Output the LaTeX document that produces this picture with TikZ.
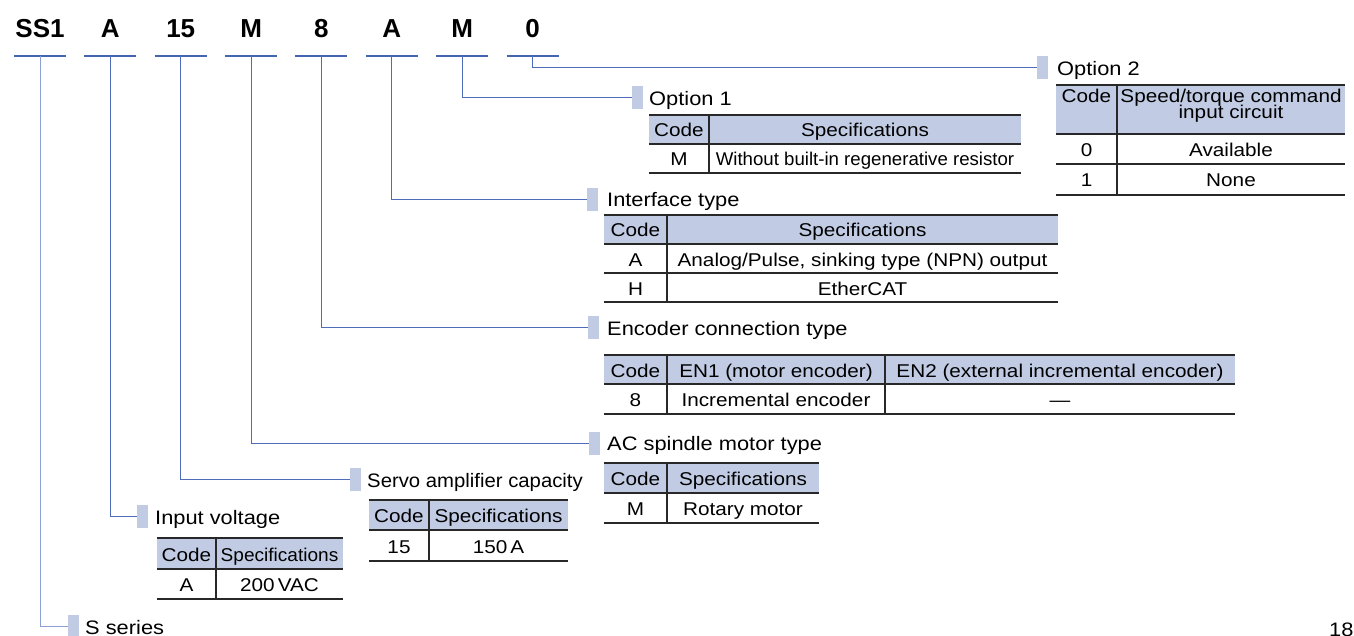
\documentclass[tikz,border=0pt]{standalone}
\usepackage{fontspec}
\usepackage{graphicx}
\setmainfont{Liberation Sans}
\newfontfamily\tabff{Liberation Sans}[FakeStretch=1.12]
\newcommand\tabfont{\tabff\fontsize{18.5}{20}\selectfont}
\newcommand\lblfont{\tabff\fontsize{19.5}{22}\selectfont}
\newcommand\codefont{\bfseries\fontsize{26}{30}\selectfont}
\definecolor{hdrblue}{RGB}{193,204,228}
\definecolor{mkblue}{RGB}{193,204,228}
\definecolor{barblue}{RGB}{68,102,178}
\definecolor{lineblue}{RGB}{78,108,186}
\definecolor{lightline}{RGB}{140,160,212}
\definecolor{tabline}{RGB}{40,40,40}
\tikzset{
 conn/.style={draw=lineblue, line width=1pt},
 bar/.style={draw=barblue, line width=2.2pt},
 marker/.style={fill=mkblue, draw=none, minimum width=11pt, minimum height=23pt, inner sep=0pt, anchor=west},
 lbl/.style={font=\lblfont, inner sep=0pt, anchor=base west},
 code/.style={font=\codefont, inner sep=0pt, anchor=base},
 cell/.style={font=\tabfont, inner sep=0pt, anchor=base},
 hrule/.style={draw=tabline, line width=1.4pt},
 vrule/.style={draw=tabline, line width=1.1pt},
 hdrfill/.style={fill=hdrblue, draw=none},
}
\begin{document}
\begin{tikzpicture}[x=1pt,y=-1pt]
\useasboundingbox (0,0) rectangle (1354,636);
\clip (0,0) rectangle (1354,636);
% ---- code letters and bars
\foreach \i/\t in {0/SS1,1/A,2/15,3/M,4/8,5/A,6/M,7/0}{
  \pgfmathsetmacro\xx{40+70.36*\i}
  \node[code] (c\i) at (\xx,38) {\t};
  \coordinate (b\i) at (\xx,56);
  \draw[bar] ([xshift=-26pt]b\i) -- ([xshift=26pt]b\i);
}
% ---- markers and labels
\node[marker] (m0) at (68,626) {};
\node[lbl] (l0) at (85,634) {S series};
\node[marker] (m1) at (137,516) {};
\node[lbl] (l1) at (155,524) {Input voltage};
\node[marker] (m2) at (350,479) {};
\node[lbl] (l2) at (367,487) {\scalebox{0.93}[1]{Servo amplifier capacity}};
\node[marker] (m3) at (589,443) {};
\node[lbl] (l3) at (607,450) {AC spindle motor type};
\node[marker] (m4) at (588,327) {};
\node[lbl] (l4) at (607,335) {Encoder connection type};
\node[marker] (m5) at (587,200) {};
\node[lbl] (l5) at (607,207) {Interface type};
\node[marker] (m6) at (632,98) {};
\node[lbl] (l6) at (649,106) {Option 1};
\node[marker] (m7) at (1037,68) {};
\node[lbl] (l7) at (1057,76) {Option 2};
% ---- connectors
\draw[conn, draw=lightline] (b0) |- (m0.west);
\foreach \i in {1,...,7}{
  \draw[conn] (b\i) |- (m\i.west);
}
% ---- Option 2 table
\fill[hdrfill] (1056,85) rectangle (1345,134);
\foreach \yy in {85,134,164,195}{\draw[hrule] (1056,\yy) -- (1345,\yy);}
\draw[vrule] (1117,85) -- (1117,195);
\node[cell] (o2h1) at (1086.5,103) {Code};
\node[cell] (o2h2) at (1231,103) {Speed/torque command};
\node[cell] (o2h3) at (1231,119) {input circuit};
\node[cell] (o2a1) at (1086.5,156.5) {0};
\node[cell] (o2a2) at (1231,156.5) {Available};
\node[cell] (o2b1) at (1086.5,187) {1};
\node[cell] (o2b2) at (1231,187) {None};
% ---- Option 1 table
\fill[hdrfill] (649,115) rectangle (1021,144);
\foreach \yy in {115,144,173}{\draw[hrule] (649,\yy) -- (1021,\yy);}
\draw[vrule] (709,115) -- (709,173);
\node[cell] (o1h1) at (679,137) {Code};
\node[cell] (o1h2) at (865,137) {Specifications};
\node[cell] (o1a1) at (679,166) {M};
\node[cell] (o1a2) at (865,166) {\scalebox{0.9}[1]{Without built-in regenerative resistor}};
% ---- Interface table
\fill[hdrfill] (604,215) rectangle (1058,244);
\foreach \yy in {215,244,273,302}{\draw[hrule] (604,\yy) -- (1058,\yy);}
\draw[vrule] (667,215) -- (667,302);
\node[cell] (ith1) at (635.5,237) {Code};
\node[cell] (ith2) at (862.5,237) {Specifications};
\node[cell] (ita1) at (635.5,266) {A};
\node[cell] (ita2) at (862.5,266) {Analog/Pulse, sinking type (NPN) output};
\node[cell] (itb1) at (635.5,295) {H};
\node[cell] (itb2) at (862.5,295) {EtherCAT};
% ---- Encoder table
\fill[hdrfill] (604,355) rectangle (1235,384);
\foreach \yy in {355,384,414}{\draw[hrule] (604,\yy) -- (1235,\yy);}
\draw[vrule] (667,355) -- (667,414);
\draw[vrule] (885,355) -- (885,414);
\node[cell] (ench1) at (635.5,377) {Code};
\node[cell] (ench2) at (776,377) {EN1 (motor encoder)};
\node[cell] (ench3) at (1060,377) {EN2 (external incremental encoder)};
\node[cell] (enca1) at (635.5,406.5) {8};
\node[cell] (enca2) at (776,406.5) {Incremental encoder};
\node[cell] (enca3) at (1060,406.5) {\textemdash};
% ---- AC spindle table
\fill[hdrfill] (604,463) rectangle (819,493);
\foreach \yy in {463,493,523}{\draw[hrule] (604,\yy) -- (819,\yy);}
\draw[vrule] (667,463) -- (667,523);
\node[cell] (ach1) at (635.5,485.5) {Code};
\node[cell] (ach2) at (743,485.5) {Specifications};
\node[cell] (aca1) at (635.5,515.5) {M};
\node[cell] (aca2) at (743,515.5) {Rotary motor};
% ---- Servo amplifier table
\fill[hdrfill] (369,500) rectangle (568,530);
\foreach \yy in {500,530,561}{\draw[hrule] (369,\yy) -- (568,\yy);}
\draw[vrule] (429,500) -- (429,561);
\node[cell] (svh1) at (399,522.5) {Code};
\node[cell] (svh2) at (498.5,522.5) {Specifications};
\node[cell] (sva1) at (399,553) {15};
\node[cell] (sva2) at (498.5,553) {150\,A};
% ---- Input voltage table
\fill[hdrfill] (157,538) rectangle (343,569);
\foreach \yy in {538,569,599}{\draw[hrule] (157,\yy) -- (343,\yy);}
\draw[vrule] (216,538) -- (216,599);
\node[cell] (ivh1) at (186.5,561) {Code};
\node[cell] (ivh2) at (279.5,561) {\scalebox{0.92}[1]{Specifications}};
\node[cell] (iva1) at (186.5,591.5) {A};
\node[cell] (iva2) at (279.5,591.5) {200\,VAC};
% ---- page number (cut by the page edge, as in the reference)
\node[lbl] (pg) at (1329,636.5) {18};
\end{tikzpicture}
\end{document}
